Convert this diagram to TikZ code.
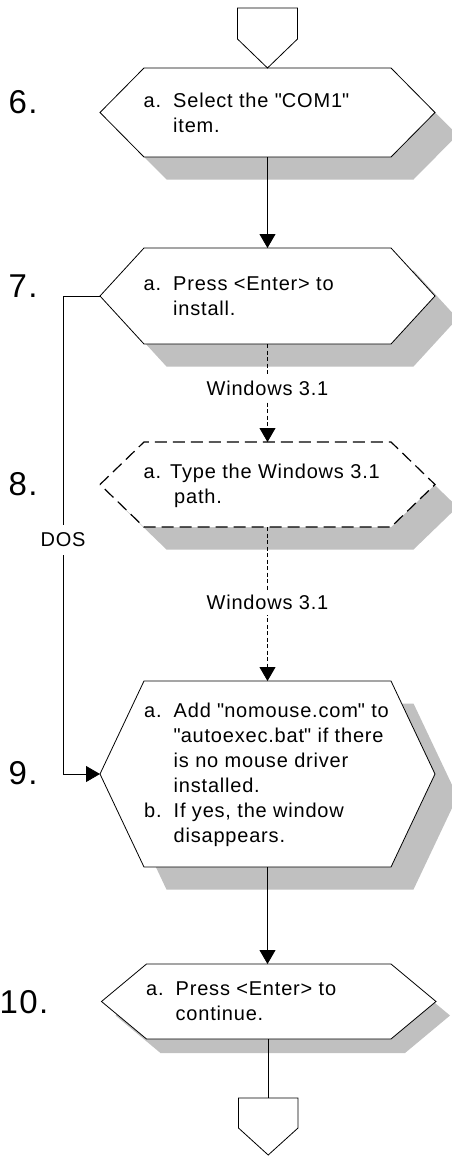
\documentclass[tikz,border=0pt]{standalone}
\usepackage{fontspec}
\setmainfont{Liberation Sans}[LetterSpace=4]
\usetikzlibrary{arrows.meta,calc}
\definecolor{shadowgray}{RGB}{192,192,192}
\newcommand\mystrut{\rule{0pt}{15pt}}
\newcommand\qq{\textquotedbl}
\newcommand\hexshadow[6]{% L R T B inset offset
  \fill[shadowgray, shift={(#6,#6)}] (#1,{(#3+#4)/2}) -- ({#1+#5},#3) -- ({#2-#5},#3) -- (#2,{(#3+#4)/2}) -- ({#2-#5},#4) -- ({#1+#5},#4) -- cycle;}
\newcommand\hexoutline[7]{% name L R T B inset style
  \path[#7] (#2,{(#4+#5)/2}) -- ({#2+#6},#4) -- ({#3-#6},#4) -- (#3,{(#4+#5)/2}) -- ({#3-#6},#5) -- ({#2+#6},#5) -- cycle;
  \node[anchorbox, minimum width={(#3-#2)*1pt}, minimum height={(#5-#4)*1pt}] (#1) at ({(#2+#3)/2},{(#4+#5)/2}) {};}
\tikzset{
  hexline/.style={draw=black, line width=0.8pt, fill=white, line join=miter},
  hexdash/.style={hexline, line width=1.2pt, dash pattern=on 12pt off 6pt},
  anchorbox/.style={rectangle, draw=none, inner sep=0pt, outer sep=0pt},
  plainline/.style={draw=black, line width=0.8pt},
  conn/.style={plainline, -{Triangle[length=14pt,width=16pt]}},
  dconn/.style={conn, dash pattern=on 4pt off 2.5pt},
  lbl/.style={fill=white, inner xsep=2pt, inner ysep=5pt, font=\fontsize{20}{25}\selectfont},
  stepnum/.style={anchor=base west, inner sep=0pt, font=\fontsize{33}{36}\selectfont},
  body/.style={anchor=north west, inner sep=0pt, align=left, font=\fontsize{20}{25}\selectfont},
}
\begin{document}
\begin{tikzpicture}[x=1pt,y=-1pt]
\useasboundingbox[fill=white] (0,0) rectangle (452,1156);
% shadows
\hexshadow{100}{435}{68}{157}{44}{22.5}
\hexshadow{100}{435}{248}{344}{44}{22.5}
\hexshadow{100}{435}{442}{527}{44}{22.5}
\hexshadow{100}{435}{681}{867}{44}{22.5}
\hexshadow{101.5}{436}{964}{1039}{45}{14}
% hexagons
\hexoutline{h6}{100}{435}{68}{157}{44}{hexline}
\hexoutline{h7}{100}{435}{248}{344}{44}{hexline}
\hexoutline{h8}{100}{435}{442}{527}{44}{hexdash}
\hexoutline{h9}{100}{435}{681}{867}{44}{hexline}
\hexoutline{h10}{101.5}{436}{964}{1039}{45}{hexline}
% off-page connectors
\path[hexline] (237.5,8) -- (297.5,8) -- (297.5,39) -- (267.5,68) -- (237.5,39) -- cycle;
\path[hexline] (238.5,1098) -- (298,1098) -- (298,1128) -- (268.2,1155) -- (238.5,1128) -- cycle;
\coordinate (outB) at (268,1098);
% texts
\node[body] (t6) at (143.5,{107.5-15}) {\mystrut\makebox[29.5pt][l]{a.}Select the \qq COM1\qq\\\hspace*{29.5pt}item.};
\node[body] (t7) at (143.5,{290.5-15}) {\mystrut\makebox[29.5pt][l]{a.}Press <Enter> to\\\hspace*{29.5pt}install.};
\node[body] (t8) at (143.5,{478.5-15}) {\mystrut\makebox[26.5pt][l]{a.}Type the Windows 3.1\\\hspace*{30.5pt}path.};
\node[body] (t9) at (144,{717-15}) {\mystrut\makebox[29.5pt][l]{a.}Add \qq nomouse.com\qq{} to\\\hspace*{29.5pt}\qq autoexec.bat\qq{} if there\\\hspace*{29.5pt}is no mouse driver\\\hspace*{29.5pt}installed.\\\makebox[29.5pt][l]{b.}If yes, the window\\\hspace*{29.5pt}disappears.};
\node[body] (t10) at (146,{995.5-15}) {\mystrut\makebox[29.5pt][l]{a.}Press <Enter> to\\\hspace*{29.5pt}continue.};
% step numbers
\node[stepnum] (n6) at (8.5,113) {6.};
\node[stepnum] (n7) at (8.5,297) {7.};
\node[stepnum] (n8) at (8.5,495) {8.};
\node[stepnum] (n9) at (8.5,784) {9.};
\node[stepnum] (n10) at (-0.5,1013) {10.};
% connectors
\draw[conn] (h6.south) -- (h7.north);
\draw[dconn] (h7.south) -- node[lbl, pos=0.45] (w1) {Windows 3.1} (h8.north);
\draw[dconn] (h8.south) -- node[lbl, pos=0.49] (w2) {Windows 3.1} (h9.north);
\node[lbl, inner ysep=8pt] (dos) at (63,540) {DOS};
\draw[plainline] (h7.west) -| (dos.north);
\draw[conn] (dos.south) |- (h9.west);
\draw[conn] (h9.south) -- (h9.south |- h10.north);
\draw[plainline] (h10.south) -- (h10.south |- outB);
\end{tikzpicture}
\end{document}
